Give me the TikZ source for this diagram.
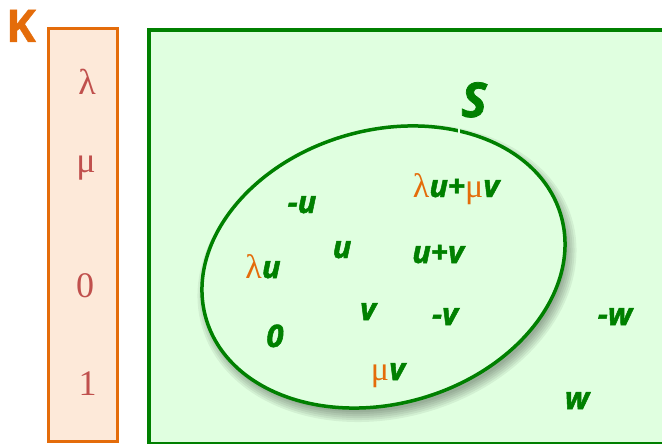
\documentclass[tikz,border=0pt]{standalone}
\usepackage{fontspec}
\setmainfont{Liberation Serif}
\newfontfamily\labfont{Open Sans}[BoldItalicFeatures={FakeBold=1.6}, BoldFeatures={FakeBold=1}]
\definecolor{grn}{RGB}{0,128,0}
\definecolor{grnbg}{RGB}{224,255,224}
\definecolor{orng}{RGB}{228,108,10}
\definecolor{orngbg}{RGB}{253,233,217}
\definecolor{redtxt}{RGB}{192,80,77}
\newcommand{\og}[1]{{\normalfont\fontsize{34}{34}\selectfont\color{orng}#1}}
\tikzset{
  vec/.style={anchor=base, inner sep=0pt, text=grn, font=\labfont\bfseries\itshape\fontsize{31}{31}\selectfont},
  scal/.style={anchor=base, inner sep=0pt, text=redtxt, font=\rmfamily\fontsize{36}{36}\selectfont},
}
\begin{document}
\begin{tikzpicture}[x=1pt,y=-1pt]
\useasboundingbox (0,0) rectangle (662,444);
\clip (0,0) rectangle (662,444);
% field K
\draw[orng, line width=3.3pt, fill=orngbg] (48.3,28.7) rectangle (117.7,441.7);
\node[anchor=base, inner sep=0pt, text=orng, font=\labfont\bfseries\fontsize{45}{45}\selectfont] (K) at (21,42) {K};
\node[scal] (k1) at (87,95) {λ};
\node[scal] (k2) at (86,172) {μ};
\node[scal] (k3) at (85,297) {0};
\node[scal] (k4) at (87.5,395) {1};
% vector space
\draw[grn, line width=4pt, fill=grnbg] (149,30.5) rectangle (700,443.5);
\coordinate (c) at (383.5,267);
\coordinate (cs) at (387,273);
\foreach \d in {8,6,4,2,0,-2}{
  \fill[black, opacity=0.06, rotate around={16.2:(cs)}] (cs) ellipse [x radius={184.8pt+\d pt}, y radius={136.7pt+\d pt}];
}
\draw[grn, line width=3.5pt, fill=grnbg, rotate around={16.2:(c)}] (c) ellipse [x radius=184.8pt, y radius=136.7pt];
\fill[grnbg] (457.5,124) rectangle (460,133);
\node[vec, font=\labfont\bfseries\itshape\fontsize{48}{48}\selectfont] (S) at (474,117) {S};
\node[vec] (mu) at (302,213) {-u};
\node[vec] (lin) at (456,197) {\og{λ}u+\og{μ}v};
\node[vec] (u) at (342,258) {u};
\node[vec] (upv) at (438,263) {u+v};
\node[vec] (lu) at (263,278) {\og{λ}u};
\node[vec] (v) at (368,320) {v};
\node[vec] (mv) at (445,325) {-v};
\node[vec] (zero) at (275,347) {0};
\node[vec] (muv) at (388,380) {\og{μ}v};
\node[vec] (mw) at (615,325) {-w};
\node[vec] (w) at (577,409) {w};
\end{tikzpicture}
\end{document}
